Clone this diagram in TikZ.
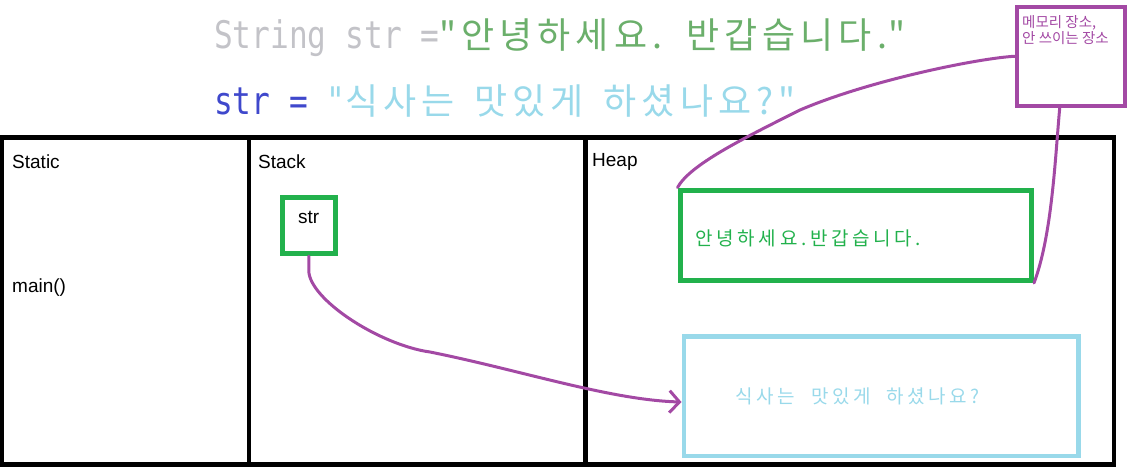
\documentclass[tikz,border=0pt]{standalone}
\usepackage{fontspec}
\setmainfont{Liberation Sans}
\newfontfamily\kofont{Noto Sans CJK KR}
\newfontfamily\kowide[LetterSpace=19,WordSpace=2]{Noto Sans CJK KR}
\newfontfamily\kocode[LetterSpace=14,WordSpace=1.5]{Noto Sans CJK KR}
\newfontfamily\codefont[FakeStretch=0.82]{DejaVu Sans Mono}
\usetikzlibrary{positioning,arrows.meta}
\definecolor{codegray}{HTML}{C3C3C8}
\definecolor{codegreen}{HTML}{6BAF6B}
\definecolor{codeblue}{HTML}{3F48CC}
\definecolor{lightblue}{HTML}{99D9EA}
\definecolor{boxgreen}{HTML}{22B14C}
\definecolor{memopurple}{HTML}{A349A4}

\begin{document}
\begin{tikzpicture}[x=1pt,y=-1pt]
\tikzset{
  every node/.style={inner sep=0pt},
  area/.style={draw=black,line width=4.5pt},
  label/.style={anchor=west,font=\fontsize{19}{19}\selectfont},
  objbox/.style={draw=boxgreen,line width=5pt,anchor=north west},
  link/.style={draw=memopurple,line width=3pt,line cap=round}
}
\useasboundingbox (0,0) rectangle (1138,472);
% code lines
\node (line1) [anchor=west] at (214,38) {\fontsize{38}{38}\selectfont\codefont\color{codegray}String str =\kocode\fontsize{36}{36}\selectfont\color{codegreen}"안녕하세요. 반갑습니다."};
\node (line2) [anchor=west] at (214,101) {\fontsize{38}{38}\selectfont\codefont\color{codeblue}str = \color{lightblue}"\kocode\fontsize{36}{36}\selectfont 식사는 맛있게 하셨나요?"};
% memory areas
\draw [area] (2,137.5) rectangle (1114,464.5);
\draw [area] (249,137.5) -- (249,464.5);
\draw [area] (585.5,137.5) -- (585.5,464.5);
\node (static) [label] at (12,162) {Static};
\node (stack) [label] at (258,162) {Stack};
\node (heap) [label] at (592,162) {Heap};
\node (main) [label] at (12,288) {main()};
% objects
\node (str) [objbox,minimum width=53.5pt,minimum height=56.3pt] at (279.5,194.7) {};
\node [font=\fontsize{19}{19}\selectfont] at ([yshift=-23pt]str.north) {str};
\node (hello) [objbox,minimum width=351.5pt,minimum height=90.5pt] at (677.5,187.5) {};
\node [anchor=west,font=\fontsize{19}{19}\selectfont\kowide,text=boxgreen] at ([xshift=18pt,yshift=-3pt]hello.west) {안녕하세요.반갑습니다.};
\node (meal) [objbox,draw=lightblue,line width=4.5pt,minimum width=394.5pt,minimum height=119.5pt] at (681.5,334) {};
\node [anchor=west,font=\fontsize{19}{19}\selectfont\kowide,text=lightblue] at ([xshift=54pt]meal.west) {식사는 맛있게 하셨나요?};
% memo
\node (memo) [draw=memopurple,line width=3.5pt,minimum width=108pt,minimum height=99pt,anchor=north west] at (1015,5) {};
\node [anchor=north west,align=left,font=\fontsize{14.5}{16.5}\selectfont\kofont,text=memopurple] at ([xshift=7pt,yshift=-10pt]memo.north west) {메모리 장소,\\안 쓰이는 장소};
% connectors
\draw [link] (memo.west) .. controls (980,58) and (870,80) .. (800,110)
  .. controls (740,140) and (690,165) .. (hello.north west);
\draw [link] ([xshift=-11pt]memo.south) .. controls (1055,160) and (1052,235) .. (hello.south east);
\draw [link,-{Straight Barb[length=10pt,width=22pt,line width=3pt]}] (str.south) -- ++(0,15)
  .. controls (310,300) and (380,345) .. (430,352)
  .. controls (520,370) and (610,400) .. ([yshift=-6pt]meal.west);
\end{tikzpicture}
\end{document}
